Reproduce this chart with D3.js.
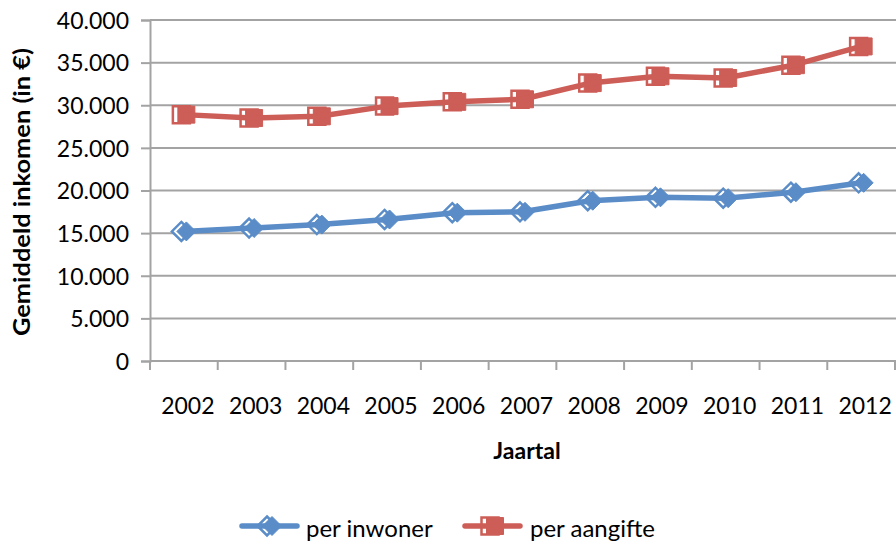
<!DOCTYPE html>
<html>
<head>
<meta charset="utf-8">
<script src="https://cdn.jsdelivr.net/npm/d3@7"></script>
<style>
  html, body { margin: 0; padding: 0; background: #fff; }
  svg { display: block; font-family: Lato, "Open Sans", sans-serif; }
</style>
</head>
<body>
<svg id="chart" width="896" height="542"></svg>
<script>
// Gemiddeld inkomen per jaar
const years = ["2002", "2003", "2004", "2005", "2006", "2007", "2008", "2009", "2010", "2011", "2012"];
const perInwoner = [15200, 15600, 16000, 16600, 17400, 17500, 18800, 19200, 19100, 19800, 20900];
const perAangifte = [28900, 28500, 28700, 29900, 30400, 30700, 32600, 33400, 33200, 34700, 36900];
const yTicks = [0, 5000, 10000, 15000, 20000, 25000, 30000, 35000, 40000];
const seriesNames = ["per inwoner", "per aangifte"];

const nl = d3.formatLocale({ decimal: ",", thousands: ".", grouping: [3], currency: ["€ ", ""] });
const fmt = nl.format(",d");

const blue = "#5A8CC8";
const red = "#CD5D57";
const grid = "#A3A3A3";

const svg = d3.select("#chart");

const x = d3.scaleBand().domain(years).range([150, 895]).paddingInner(0).paddingOuter(0);
const y = d3.scaleLinear().domain([0, 40000]).range([361, 20]);
const cx = d => x(d) + x.bandwidth() / 2;

// horizontal gridlines
svg.append("g")
  .selectAll("line")
  .data(yTicks.filter(t => t > 0))
  .join("line")
  .attr("x1", 150).attr("x2", 896)
  .attr("y1", d => y(d)).attr("y2", d => y(d))
  .attr("stroke", grid).attr("stroke-width", 2);

// y axis
const yAxis = svg.append("g")
  .attr("transform", "translate(150,0)")
  .call(d3.axisLeft(y).tickValues(yTicks).tickFormat(fmt).tickSize(9).tickPadding(12));
yAxis.select(".domain").attr("stroke", grid).attr("stroke-width", 2);
yAxis.selectAll(".tick line").attr("stroke", grid).attr("stroke-width", 2);
yAxis.selectAll(".tick text")
  .attr("fill", "#000").style("font-size", "23px").style("font-family", "Lato, sans-serif")
  .attr("dy", "0.36em");

// x axis with ticks at category boundaries
const xAxisG = svg.append("g").attr("transform", `translate(0,${y(0)})`);
xAxisG.append("line")
  .attr("x1", 150).attr("x2", 896)
  .attr("stroke", grid).attr("stroke-width", 2);
const bounds = years.map(d => x(d)).concat([x.range()[1]]);
xAxisG.selectAll("line.tk")
  .data(bounds)
  .join("line")
  .attr("class", "tk")
  .attr("x1", d => d).attr("x2", d => d)
  .attr("y1", 0).attr("y2", 9)
  .attr("stroke", grid).attr("stroke-width", 2);
xAxisG.selectAll("text")
  .data(years)
  .join("text")
  .attr("x", d => cx(d) + 4)
  .attr("y", 53)
  .attr("text-anchor", "middle")
  .style("font-size", "23px")
  .attr("fill", "#000")
  .text(d => d);

// axis titles
svg.append("text")
  .attr("x", 527).attr("y", 459)
  .attr("text-anchor", "middle")
  .style("font-size", "23px").style("font-weight", "bold")
  .text("Jaartal");

svg.append("text")
  .attr("transform", "translate(30,192) rotate(-90)")
  .attr("text-anchor", "middle")
  .attr("textLength", 288).attr("lengthAdjust", "spacingAndGlyphs")
  .style("font-size", "22px").style("font-weight", "bold")
  .text("Gemiddeld inkomen (in €)");

// marker shapes
const squarePath = s => `M${-s / 2},${-s / 2}h${s}v${s}h${-s}Z`;
const diamondPath = s => `M0,${-s / 2}L${s / 2},0L0,${s / 2}L${-s / 2},0Z`;

function drawMarker(g, px, py, shape, color) {
  // outlined shape with a solid copy set slightly to the right
  g.append("path")
    .attr("d", shape)
    .attr("transform", `translate(${px - 2.5},${py})`)
    .attr("fill", "#fff").attr("stroke", color).attr("stroke-width", 2.5);
  g.append("path")
    .attr("d", shape)
    .attr("transform", `translate(${px + 2.5},${py})`)
    .attr("fill", color).attr("stroke", color).attr("stroke-width", 1);
}

const series = [
  { name: seriesNames[0], values: perInwoner, color: blue, shape: diamondPath(19) },
  { name: seriesNames[1], values: perAangifte, color: red, shape: squarePath(17) }
];

const line = d3.line().x(d => cx(d.year)).y(d => y(d.v));

series.forEach(s => {
  const pts = years.map((yr, i) => ({ year: yr, v: s.values[i] }));
  const g = svg.append("g");
  pts.forEach(p => drawMarker(g, cx(p.year), y(p.v), s.shape, s.color));
  g.append("path")
    .datum(pts)
    .attr("d", line)
    .attr("fill", "none")
    .attr("stroke", s.color)
    .attr("stroke-width", 5.5)
    .attr("stroke-linejoin", "round");
});

// legend
const legendItems = [
  { x0: 242, x1: 297, tx: 306 },
  { x0: 465, x1: 520, tx: 530 }
];
series.forEach((s, i) => {
  const L = legendItems[i];
  const g = svg.append("g");
  const mid = (L.x0 + L.x1) / 2;
  drawMarker(g, mid, 526, s.shape, s.color);
  g.append("line")
    .attr("x1", L.x0).attr("x2", L.x1)
    .attr("y1", 526).attr("y2", 526)
    .attr("stroke", s.color).attr("stroke-width", 5.5).attr("stroke-linecap", "round");
  g.append("text")
    .attr("x", L.tx).attr("y", 537)
    .style("font-size", "24px")
    .attr("fill", "#000")
    .text(s.name);
});
</script>
</body>
</html>
